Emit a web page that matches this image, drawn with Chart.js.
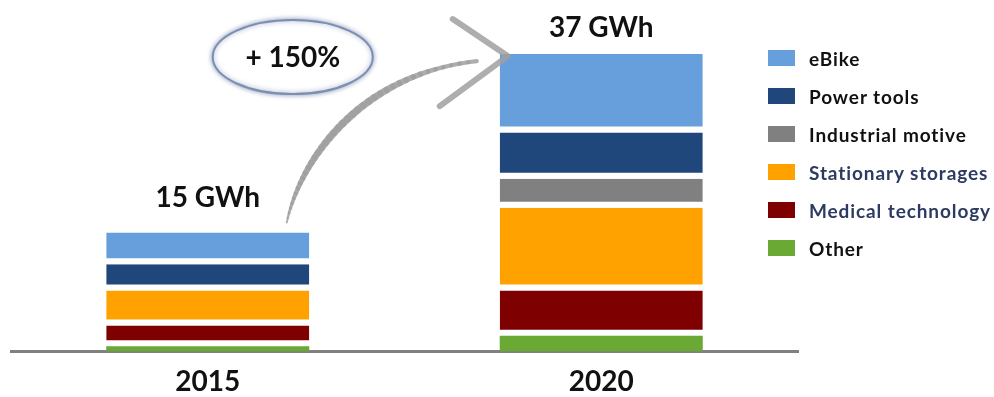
<!DOCTYPE html>
<html>
<head>
<meta charset="utf-8">
<script src="https://cdn.jsdelivr.net/npm/chart.js@4"></script>
<style>
  body { margin: 0; background: #fff; }
  #wrap { position: relative; width: 994px; height: 397px; }
  #legend { position: absolute; left: 768px; top: 50px; font: bold 19px Lato, "Open Sans", sans-serif; letter-spacing: 0.9px; }
  .row { position: relative; height: 38px; }
  .box { position: absolute; left: 0; top: 0; width: 27px; height: 16px; }
  .txt { position: absolute; left: 41px; top: -3px; line-height: 24px; white-space: nowrap; }
</style>
</head>
<body>
<div id="wrap">
  <canvas id="myChart" width="994" height="397"></canvas>
  <div id="legend"></div>
</div>
<script>
// years on the x axis
const years = ['2015', '2020'];

// segments, bottom to top (GWh)
const other      = [0.65, 1.95];
const medical    = [2.6, 5.65];
const stationary = [4.35, 10.3];
const industrial = [0, 3.6];
const powerTools = [3.25, 5.75];
const eBike      = [3.95, 9.75];

const growthLabel = '+ 150%';

const series = [
  { label: 'Other', data: other, color: '#6aa934', text: '#111111' },
  { label: 'Medical technology', data: medical, color: '#7f0000', text: '#2d3a62' },
  { label: 'Stationary storages', data: stationary, color: '#ffa200', text: '#2d3a62' },
  { label: 'Industrial motive', data: industrial, color: '#808080', text: '#111111' },
  { label: 'Power tools', data: powerTools, color: '#1f477b', text: '#111111' },
  { label: 'eBike', data: eBike, color: '#669fdc', text: '#111111' }
];

// legend, top to bottom
const legend = document.getElementById('legend');
series.slice().reverse().forEach(s => {
  const row = document.createElement('div');
  row.className = 'row';
  row.innerHTML = '<div class="box" style="background:' + s.color + '"></div>' +
                  '<div class="txt" style="color:' + s.text + '">' + s.label + '</div>';
  legend.appendChild(row);
});

const extras = {
  id: 'extras',
  afterDatasetsDraw(chart) {
    const c = chart.ctx;
    const top = chart.getDatasetMeta(series.length - 1).data;

    // totals above bars
    c.save();
    c.fillStyle = '#111';
    c.font = 'bold 28px Lato, "Open Sans", sans-serif';
    c.textAlign = 'center';
    c.textBaseline = 'alphabetic';
    years.forEach((y, i) => {
      let total = 0;
      series.forEach(s => total += s.data[i]);
      c.fillText(Math.round(total) + ' GWh', top[i].x, Math.max(37, top[i].y - 26));
    });
    c.restore();

    // curved arrow from 2015 to 2020
    const b0 = top[0], b1 = top[1];
    const sx = b0.x + 79, sy = b0.y - 10;
    const ex = b1.x - b1.width / 2 - 23, ey = b1.y + 7;
    const c1x = sx + 13, c1y = sy - 62;
    const c2x = sx + 73, c2y = ey + 13;
    c.save();
    c.strokeStyle = 'rgba(160,160,160,0.85)';
    c.lineCap = 'round';
    const n = 40;
    let px = sx, py = sy;
    for (let k = 1; k <= n; k++) {
      const t = k / n, u = 1 - t;
      const x = u*u*u*sx + 3*u*u*t*c1x + 3*u*t*t*c2x + t*t*t*ex;
      const y = u*u*u*sy + 3*u*u*t*c1y + 3*u*t*t*c2y + t*t*t*ey;
      c.lineWidth = 1.5 + 6 * Math.sin(Math.PI * Math.min(1, t * 1.1) * 0.85);
      c.beginPath();
      c.moveTo(px, py);
      c.lineTo(x, y);
      c.stroke();
      px = x; py = y;
    }
    // arrow head
    const tx = b1.x - b1.width / 2 + 8, ty = b1.y + 2;
    c.lineWidth = 6;
    c.lineJoin = 'round';
    c.beginPath();
    c.moveTo(tx - 55, ty - 37);
    c.lineTo(tx, ty);
    c.lineTo(tx - 68, ty + 50);
    c.stroke();
    c.restore();

    // growth ellipse
    const ox = b0.x + 85, oy = b1.y + 3;
    c.save();
    c.shadowColor = 'rgba(80,100,150,0.6)';
    c.shadowBlur = 5;
    c.fillStyle = '#fff';
    c.strokeStyle = '#7c8fb2';
    c.lineWidth = 2;
    c.beginPath();
    c.ellipse(ox, oy, 80, 37, 0, 0, Math.PI * 2);
    c.fill();
    c.stroke();
    c.shadowColor = 'transparent';
    c.fillStyle = '#111';
    c.font = 'bold 28px Lato, "Open Sans", sans-serif';
    c.textAlign = 'center';
    c.textBaseline = 'middle';
    c.fillText(growthLabel, ox, oy + 1);
    c.restore();
  }
};

const ctx = document.getElementById('myChart');

new Chart(ctx, {
  type: 'bar',
  data: {
    labels: years,
    datasets: series.map((s, i) => ({
      label: s.label,
      data: s.data,
      backgroundColor: s.color,
      borderColor: '#ffffff',
      borderSkipped: false,
      borderWidth: { top: 0, left: 0, right: 0, bottom: i === 0 ? 0 : 6 },
      barPercentage: 0.516,
      categoryPercentage: 1
    }))
  },
  options: {
    responsive: false,
    animation: false,
    layout: { padding: { top: 30, left: 11, right: 196, bottom: 0 } },
    plugins: {
      legend: { display: false },
      tooltip: { enabled: false }
    },
    scales: {
      x: {
        stacked: true,
        grid: { display: false, drawTicks: false },
        border: { display: true, color: '#808080', width: 3 },
        afterFit(scale) { scale.height = 45.5; },
        ticks: {
          padding: 14,
          color: '#111',
          font: { family: 'Lato, "Open Sans", sans-serif', size: 28, weight: 'bold' }
        }
      },
      y: {
        stacked: true,
        display: false,
        min: 0,
        max: 40
      }
    }
  },
  plugins: [extras]
});
</script>
</body>
</html>
